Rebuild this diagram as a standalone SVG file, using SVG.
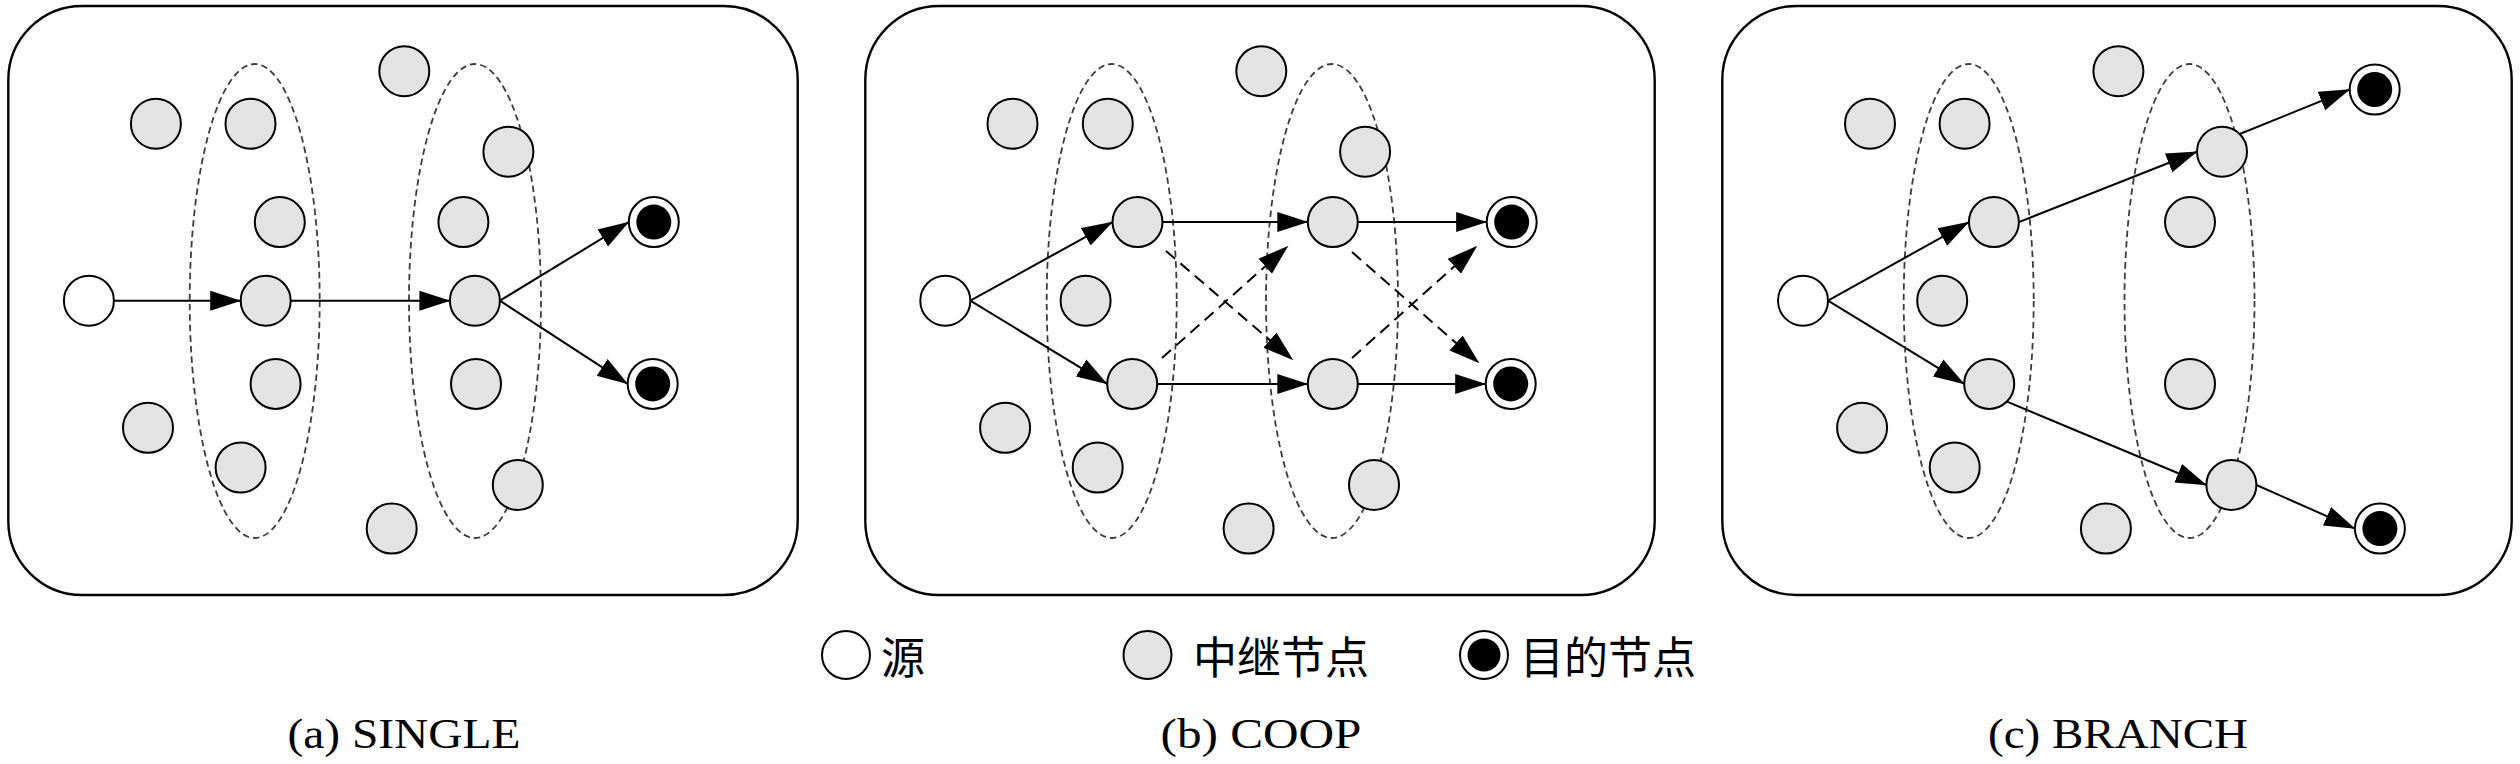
<svg xmlns="http://www.w3.org/2000/svg" width="2520" height="764" viewBox="0 0 2520 764">
<defs>
<style>
.panel{fill:#fff;stroke:#000;stroke-width:2.4}
.grp{fill:none;stroke:#3c3c3c;stroke-width:1.8;stroke-dasharray:6.5 4}
.relay{fill:#e3e3e3;stroke:#000;stroke-width:2}
.src{fill:#fff;stroke:#000;stroke-width:2}
.dst{fill:#fff;stroke:#000;stroke-width:2}
.dstin{fill:#000;stroke:none}
.edge{fill:none;stroke:#000;stroke-width:2;marker-end:url(#ah)}
.dash{stroke-dasharray:12 7}
.leg{font-family:"Noto Sans CJK SC","Noto Sans",sans-serif;font-size:44px;fill:#000}
.cap{font-family:"Liberation Serif",serif;font-size:42px;fill:#000;text-anchor:middle}
</style>
<marker id="ah" markerUnits="userSpaceOnUse" markerWidth="32" markerHeight="22" refX="30.5" refY="10" orient="auto" viewBox="0 0 32 20">
<path d="M0,0 L31,10 L0,20 Z" fill="#000"/>
</marker>
</defs>
<rect width="2520" height="764" fill="#fff"/>

<g id="panel-a">
<rect class="panel" x="8.3" y="6" width="789.4" height="589" rx="74"/>
<ellipse class="grp" cx="254.7" cy="301" rx="65" ry="237"/>
<ellipse class="grp" cx="475" cy="301" rx="66" ry="237"/>
</g>
<g id="panel-b">
<rect class="panel" x="865.3" y="6" width="789.4" height="589" rx="74"/>
<ellipse class="grp" cx="1111.7" cy="301" rx="65" ry="237"/>
<ellipse class="grp" cx="1332" cy="301" rx="66" ry="237"/>
</g>
<g id="panel-c">
<rect class="panel" x="1722.3" y="6" width="789.4" height="589" rx="74"/>
<ellipse class="grp" cx="1968.7" cy="301" rx="65" ry="237"/>
<ellipse class="grp" cx="2189.5" cy="301" rx="65" ry="237"/>
</g>

<g id="connectors">
<line class="edge" x1="113.9" y1="300.7" x2="240.7" y2="300.7"/>
<line class="edge" x1="290.7" y1="300.7" x2="449.9" y2="300.7"/>
<line class="edge" x1="499.9" y1="300.7" x2="628.8" y2="222.1"/>
<line class="edge" x1="499.9" y1="300.7" x2="627.7" y2="383.9"/>

<line class="edge" x1="970.3" y1="300.7" x2="1112.5" y2="222.1"/>
<line class="edge" x1="970.3" y1="300.7" x2="1107.2" y2="383.9"/>
<line class="edge" x1="1162.5" y1="222.1" x2="1307.8" y2="222.1"/>
<line class="edge" x1="1157.2" y1="383.9" x2="1307.8" y2="383.9"/>
<line class="edge" x1="1357.8" y1="222.1" x2="1486.7" y2="222.1"/>
<line class="edge" x1="1357.8" y1="383.9" x2="1485.7" y2="383.9"/>
<line class="edge dash" x1="1166" y1="251" x2="1293" y2="360"/>
<line class="edge dash" x1="1162" y1="358" x2="1288" y2="246"/>
<line class="edge dash" x1="1352" y1="252" x2="1479" y2="363"/>
<line class="edge dash" x1="1352" y1="358" x2="1477" y2="246"/>

<line class="edge" x1="1828" y1="300.7" x2="1968.9" y2="222.1"/>
<line class="edge" x1="1828" y1="300.7" x2="1964.2" y2="383.9"/>
<line class="edge" x1="2018.9" y1="222.1" x2="2197" y2="151.7"/>
<line class="edge" x1="2239.7" y1="134" x2="2349.7" y2="89.5"/>
<line class="edge" x1="2006.9" y1="401.6" x2="2206.4" y2="485"/>
<line class="edge" x1="2256.4" y1="485" x2="2354.9" y2="528.6"/>
</g>

<!-- panel a nodes -->
<g id="a-src"><circle class="src" cx="88.9" cy="300.7" r="25"/></g>
<g id="a-r1"><circle class="relay" cx="155.9" cy="123.7" r="25"/></g>
<g id="a-r2"><circle class="relay" cx="250.5" cy="123.7" r="25"/></g>
<g id="a-r3"><circle class="relay" cx="404.3" cy="71.2" r="25"/></g>
<g id="a-r4"><circle class="relay" cx="508.4" cy="151.7" r="25"/></g>
<g id="a-r5"><circle class="relay" cx="279.8" cy="222.1" r="25"/></g>
<g id="a-r6"><circle class="relay" cx="463.4" cy="222.1" r="25"/></g>
<g id="a-r7"><circle class="relay" cx="265.7" cy="300.7" r="25"/></g>
<g id="a-r8"><circle class="relay" cx="474.9" cy="300.7" r="25"/></g>
<g id="a-r9"><circle class="relay" cx="275.6" cy="383.9" r="25"/></g>
<g id="a-r10"><circle class="relay" cx="476" cy="383.9" r="25"/></g>
<g id="a-r11"><circle class="relay" cx="148" cy="427.8" r="25"/></g>
<g id="a-r12"><circle class="relay" cx="240.6" cy="467.5" r="25"/></g>
<g id="a-r13"><circle class="relay" cx="517.8" cy="485" r="25"/></g>
<g id="a-r14"><circle class="relay" cx="391.7" cy="528.6" r="25"/></g>
<g id="a-d1"><circle class="dst" cx="653.8" cy="222.1" r="25"/><circle class="dstin" cx="653.8" cy="222.1" r="17.5"/></g>
<g id="a-d2"><circle class="dst" cx="652.7" cy="383.9" r="25"/><circle class="dstin" cx="652.7" cy="383.9" r="17.5"/></g>

<!-- panel b nodes -->
<g id="b-src"><circle class="src" cx="945.3" cy="300.7" r="25"/></g>
<g id="b-r1"><circle class="relay" cx="1012.5" cy="123.7" r="25"/></g>
<g id="b-r2"><circle class="relay" cx="1107.8" cy="123.7" r="25"/></g>
<g id="b-r3"><circle class="relay" cx="1261.3" cy="71.2" r="25"/></g>
<g id="b-r4"><circle class="relay" cx="1365.1" cy="151.7" r="25"/></g>
<g id="b-r5"><circle class="relay" cx="1137.5" cy="222.1" r="25"/></g>
<g id="b-r6"><circle class="relay" cx="1332.8" cy="222.1" r="25"/></g>
<g id="b-r7"><circle class="relay" cx="1085.6" cy="300.7" r="25"/></g>
<g id="b-r8"><circle class="relay" cx="1132.2" cy="383.9" r="25"/></g>
<g id="b-r9"><circle class="relay" cx="1332.8" cy="383.9" r="25"/></g>
<g id="b-r10"><circle class="relay" cx="1005.1" cy="427.8" r="25"/></g>
<g id="b-r11"><circle class="relay" cx="1097.7" cy="467.5" r="25"/></g>
<g id="b-r12"><circle class="relay" cx="1374" cy="485" r="25"/></g>
<g id="b-r13"><circle class="relay" cx="1248.6" cy="528.6" r="25"/></g>
<g id="b-d1"><circle class="dst" cx="1511.7" cy="222.1" r="25"/><circle class="dstin" cx="1511.7" cy="222.1" r="17.5"/></g>
<g id="b-d2"><circle class="dst" cx="1510.7" cy="383.9" r="25"/><circle class="dstin" cx="1510.7" cy="383.9" r="17.5"/></g>

<!-- panel c nodes -->
<g id="c-src"><circle class="src" cx="1803" cy="300.7" r="25"/></g>
<g id="c-r1"><circle class="relay" cx="1870" cy="123.7" r="25"/></g>
<g id="c-r2"><circle class="relay" cx="1964.6" cy="123.7" r="25"/></g>
<g id="c-r3"><circle class="relay" cx="2118.4" cy="71.2" r="25"/></g>
<g id="c-r4"><circle class="relay" cx="2222" cy="151.7" r="25"/></g>
<g id="c-r5"><circle class="relay" cx="1993.9" cy="222.1" r="25"/></g>
<g id="c-r6"><circle class="relay" cx="2190" cy="222.1" r="25"/></g>
<g id="c-r7"><circle class="relay" cx="1942.2" cy="300.7" r="25"/></g>
<g id="c-r8"><circle class="relay" cx="1989.2" cy="383.9" r="25"/></g>
<g id="c-r9"><circle class="relay" cx="2190" cy="383.9" r="25"/></g>
<g id="c-r10"><circle class="relay" cx="1862.1" cy="427.8" r="25"/></g>
<g id="c-r11"><circle class="relay" cx="1954.7" cy="467.5" r="25"/></g>
<g id="c-r12"><circle class="relay" cx="2231.4" cy="485" r="25"/></g>
<g id="c-r13"><circle class="relay" cx="2105.9" cy="528.6" r="25"/></g>
<g id="c-d1"><circle class="dst" cx="2374.7" cy="89.5" r="25"/><circle class="dstin" cx="2374.7" cy="89.5" r="17.5"/></g>
<g id="c-d2"><circle class="dst" cx="2379.9" cy="528.6" r="25"/><circle class="dstin" cx="2379.9" cy="528.6" r="17.5"/></g>

<g id="legend">
<g id="leg-src"><circle class="src" cx="846" cy="655" r="24"/><text class="leg" x="881" y="674">源</text></g>
<g id="leg-relay"><circle class="relay" cx="1147.5" cy="655" r="24"/><text class="leg" x="1193" y="674">中继节点</text></g>
<g id="leg-dst"><circle class="dst" cx="1484" cy="655" r="24"/><circle class="dstin" cx="1484" cy="655" r="16.5"/><text class="leg" x="1520" y="674">目的节点</text></g>
</g>

<g id="captions">
<text class="cap" x="404" y="748" textLength="233" lengthAdjust="spacingAndGlyphs">(a) SINGLE</text>
<text class="cap" x="1261" y="748" textLength="201" lengthAdjust="spacingAndGlyphs">(b) COOP</text>
<text class="cap" x="2118" y="748" textLength="260" lengthAdjust="spacingAndGlyphs">(c) BRANCH</text>
</g>
</svg>
